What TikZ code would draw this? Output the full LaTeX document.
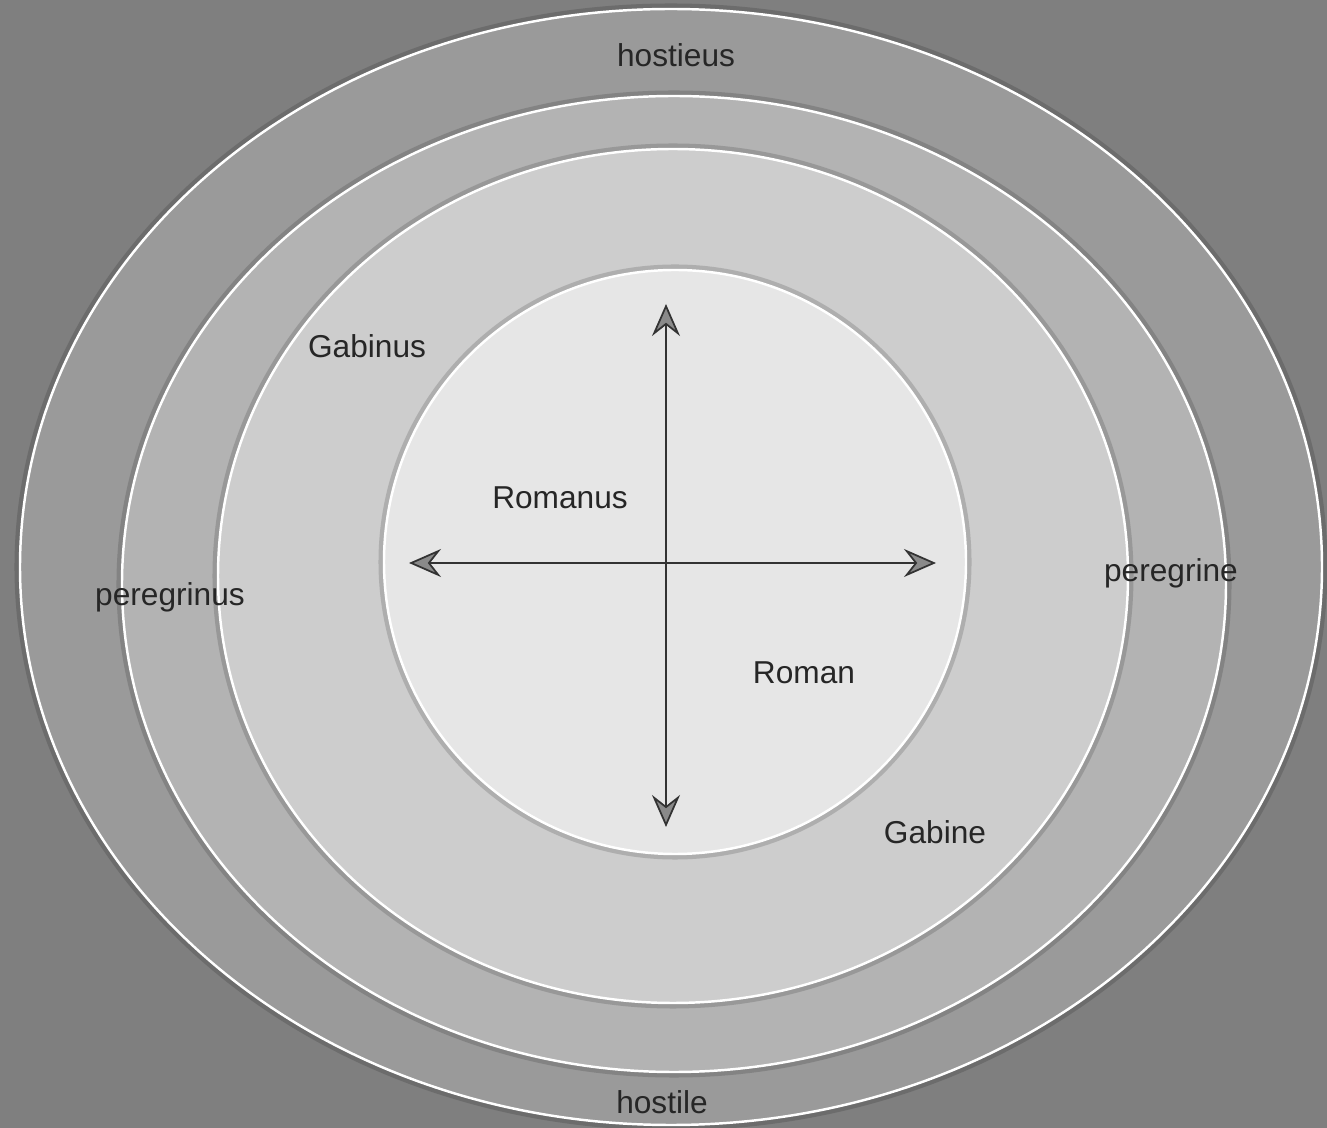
\documentclass[tikz,border=0pt]{standalone}
\usepackage{fontspec}
\setmainfont{Liberation Sans}
\usetikzlibrary{arrows.meta}
\definecolor{bg}{HTML}{7F7F7F}
\definecolor{ringa}{HTML}{9A9A9A}
\definecolor{ringb}{HTML}{B3B3B3}
\definecolor{ringc}{HTML}{CDCDCD}
\definecolor{ringd}{HTML}{E6E6E6}
\definecolor{axis}{HTML}{333333}
\definecolor{tipfill}{HTML}{8A8A8A}
\tikzset{
  ring/.style={draw=white, line width=0.7pt},
  glow/.style={draw=black, opacity=0.15, line width=2pt},
  word/.style={font=\fontsize{9}{11}\selectfont, text=black!85},
  axtip/.tip={Stealth[length=3.2mm, width=2.8mm, inset=1.1mm, fill=tipfill, line width=0.5pt]},
  axisline/.style={draw=axis, line width=0.8pt, axtip-axtip}
}
\begin{document}
\begin{tikzpicture}[x=0.01cm, y=0.01cm]
      \fill[bg] (0,0) rectangle (1327,-1128);
      \useasboundingbox (0,0) rectangle (1327,-1128);

      % rings, outside in
      \draw[glow] (671,-567) ellipse [x radius=653, y radius=560];
      \fill[ringa] (671,-567) ellipse [x radius=651, y radius=558];
      \draw[ring] (671,-567) ellipse [x radius=651, y radius=558];

      \draw[glow] (674,-584) ellipse [x radius=554, y radius=490];
      \fill[ringb] (674,-584) ellipse [x radius=552, y radius=488];
      \draw[ring] (674,-584) ellipse [x radius=552, y radius=488];

      \draw[glow] (673,-576) ellipse [x radius=457, y radius=429];
      \fill[ringc] (673,-576) ellipse [x radius=455, y radius=427];
      \draw[ring] (673,-576) ellipse [x radius=455, y radius=427];

      \draw[glow] (675,-562) ellipse [x radius=293, y radius=294];
      \fill[ringd] (675,-562) ellipse [x radius=291, y radius=292];
      \draw[ring] (675,-562) ellipse [x radius=291, y radius=292];

      % axes
      \coordinate (n) at (666,-304);
      \coordinate (s) at (666,-827);
      \coordinate (w) at (409,-563);
      \coordinate (e) at (936,-563);
      \draw[axisline] (n)--(s);
      \draw[axisline] (w)--(e);

      % labels
      \node[word] (hostieus) at (676,-55) {hostieus};
      \node[word] (gabinus) at (367,-346) {Gabinus};
      \node[word] (romanus) at (560,-498) {Romanus};
      \node[word] (peregrinus) at (170,-597) {peregrinus};
      \node[word] (peregrine) at (1171,-573) {peregrine};
      \node[word] (roman) at (804,-673) {Roman};
      \node[word] (gabine) at (935,-832) {Gabine};
      \node[word] (hostile) at (662,-1102) {hostile};
    \end{tikzpicture}
\end{document}
